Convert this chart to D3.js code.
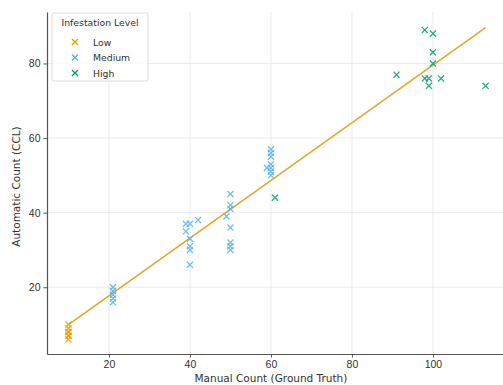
<!DOCTYPE html>
<html>
<head>
<meta charset="utf-8">
<script src="https://cdn.jsdelivr.net/npm/d3@7"></script>
<style>
  body { margin: 0; background: #fff; }
  svg { font-family: "DejaVu Sans", sans-serif; }
</style>
</head>
<body>
<div id="chart"></div>
<script>
// manual vs automatic counts, by infestation level
const levels = ["Low", "Medium", "High"];
const colors = ["#E69F00", "#56B4E9", "#009E73"];

const lowManual = [10, 10, 10, 10, 10, 10, 10];
const lowAuto   = [6, 7, 8, 9, 10, 8, 7];

const medManual = [21, 21, 21, 21, 21,
                   39, 42, 40, 39, 40, 40, 40, 40,
                   50, 50, 50, 49, 50, 50, 50, 50,
                   60, 60, 60, 60, 59, 60, 60, 60];
const medAuto   = [16, 17, 18, 19, 20,
                   37, 38, 37, 35, 33, 31, 30, 26,
                   45, 42, 41, 39, 36, 32, 31, 30,
                   57, 56, 55, 53, 52, 52, 51, 50];

const highManual = [61, 98, 100, 100, 100, 91, 98, 99, 99, 102, 113];
const highAuto   = [44, 89, 88, 83, 80, 77, 76, 76, 74, 76, 74];

// fitted line end points
const fitX = [10, 113];
const fitY = [10, 89.6];

const xTicks = [20, 40, 60, 80, 100];
const yTicks = [20, 40, 60, 80];

const series = [
  { name: levels[0], x: lowManual, y: lowAuto, color: colors[0] },
  { name: levels[1], x: medManual, y: medAuto, color: colors[1] },
  { name: levels[2], x: highManual, y: highAuto, color: colors[2] }
];

const W = 503, H = 385;
const margin = { top: 12, right: 0, bottom: 31, left: 47 };
const width = W - margin.left - margin.right;
const height = H - margin.top - margin.bottom;

const svg = d3.select("#chart").append("svg")
  .attr("width", W).attr("height", H);

const g = svg.append("g")
  .attr("transform", `translate(${margin.left},${margin.top})`);

const x = d3.scaleLinear().domain([4.7, 117.3]).range([0, width]);
const y = d3.scaleLinear().domain([2.1, 93.8]).range([height, 0]);

// grid
g.append("g").selectAll("line").data(xTicks).join("line")
  .attr("x1", d => x(d)).attr("x2", d => x(d))
  .attr("y1", 0).attr("y2", height)
  .attr("stroke", "#e6e6e6").attr("stroke-width", 0.8);
g.append("g").selectAll("line").data(yTicks).join("line")
  .attr("x1", 0).attr("x2", width)
  .attr("y1", d => y(d)).attr("y2", d => y(d))
  .attr("stroke", "#e6e6e6").attr("stroke-width", 0.8);

// fit line
g.append("line")
  .attr("x1", x(fitX[0])).attr("y1", y(fitY[0]))
  .attr("x2", x(fitX[1])).attr("y2", y(fitY[1]))
  .attr("stroke", "#E3A82B").attr("stroke-width", 1.6);

// x markers
const cross = d3.symbol().type(d3.symbolX).size(26);
series.forEach(s => {
  g.append("g").selectAll("path").data(s.x.map((v, i) => [v, s.y[i]])).join("path")
    .attr("d", cross)
    .attr("transform", d => `translate(${x(d[0])},${y(d[1])})`)
    .attr("fill", "none")
    .attr("stroke", s.color)
    .attr("stroke-width", 1.3)
    .attr("opacity", 0.85);
});

// axes
const xAxis = g.append("g")
  .attr("transform", `translate(0,${height})`)
  .call(d3.axisBottom(x).tickValues(xTicks).tickSize(3.5).tickSizeOuter(0).tickPadding(3));
const yAxis = g.append("g")
  .call(d3.axisLeft(y).tickValues(yTicks).tickSize(3.5).tickSizeOuter(0).tickPadding(3));
[xAxis, yAxis].forEach(a => {
  a.select(".domain").attr("stroke", "#555").attr("stroke-width", 1.2);
  a.selectAll(".tick line").attr("stroke", "#555");
  a.selectAll("text").attr("fill", "#333").style("font-size", "10.5px");
});

// axis labels
svg.append("text")
  .attr("x", margin.left + x(60)).attr("y", 382)
  .attr("text-anchor", "middle").attr("fill", "#333")
  .style("font-size", "10.5px")
  .text("Manual Count (Ground Truth)");
svg.append("text")
  .attr("transform", `translate(20,${margin.top + y(47)}) rotate(-90)`)
  .attr("text-anchor", "middle").attr("fill", "#333")
  .style("font-size", "10.5px")
  .text("Automatic Count (CCL)");

// legend
const lg = svg.append("g").attr("transform", "translate(52,13)");
lg.append("rect")
  .attr("width", 96).attr("height", 68).attr("rx", 2)
  .attr("fill", "#fff").attr("fill-opacity", 0.85)
  .attr("stroke", "#ddd");
lg.append("text").attr("x", 48).attr("y", 13)
  .attr("text-anchor", "middle").attr("fill", "#333")
  .style("font-size", "9.3px").text("Infestation Level");
series.forEach((s, i) => {
  const row = lg.append("g").attr("transform", `translate(0,${29 + i * 15.5})`);
  row.append("path").attr("d", cross)
    .attr("transform", "translate(23,0)")
    .attr("fill", "none").attr("stroke", s.color).attr("stroke-width", 1.3);
  row.append("text").attr("x", 41).attr("y", 3.5)
    .attr("fill", "#333").style("font-size", "9.3px").text(s.name);
});
</script>
</body>
</html>
